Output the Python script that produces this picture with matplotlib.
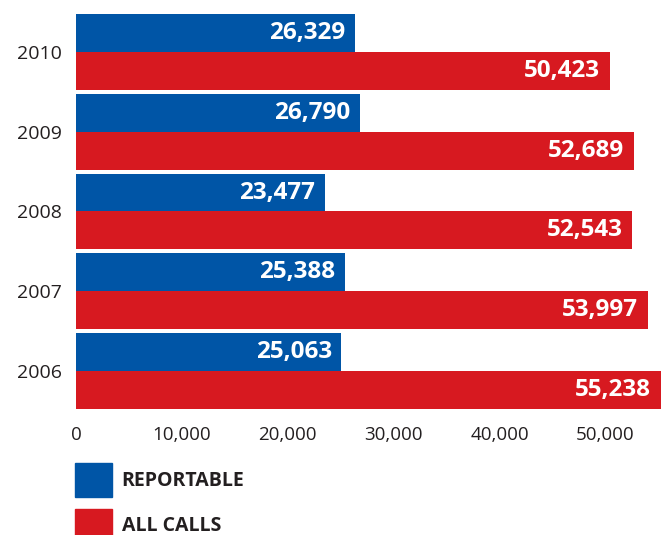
import matplotlib
matplotlib.use("Agg")
import matplotlib.pyplot as plt
import numpy as np
from matplotlib.patches import Patch

plt.rcParams['font.family'] = ['Open Sans', 'DejaVu Sans']

# Call counts per year
years = ["2006", "2007", "2008", "2009", "2010"]
reportable = [25063, 25388, 23477, 26790, 26329]
all_calls = [55238, 53997, 52543, 52689, 50423]
xticks = [0, 10000, 20000, 30000, 40000, 50000]

blue = "#0055A6"
red = "#D71920"
text_col = "#231F20"

W, H = 665, 535
fig = plt.figure(figsize=(W / 100, H / 100), dpi=100)

# axes placed in pixel terms: x=0 at px 76, 10,000 units = 105.9 px
x0_px = 76
px_per_unit = 0.01059
xmax = 55300
y_top_px, y_bot_px = 4, 419
ax = fig.add_axes([x0_px / W, 1 - y_bot_px / H,
                   xmax * px_per_unit / W, (y_bot_px - y_top_px) / H])

y = np.arange(len(years))
h = 0.475
ax.barh(y + h / 2, reportable, height=h, color=blue, label="REPORTABLE")
ax.barh(y - h / 2, all_calls, height=h, color=red, label="ALL CALLS")

for yi, v in zip(y, reportable):
    ax.annotate(f"{v:,}", (v, yi + h / 2), xytext=(-7, 0), textcoords="offset points",
                ha="right", va="center", color="white", fontsize=17.5, fontweight="bold")
for yi, v in zip(y, all_calls):
    ax.annotate(f"{v:,}", (v, yi - h / 2), xytext=(-7, 0), textcoords="offset points",
                ha="right", va="center", color="white", fontsize=17.5, fontweight="bold")

ax.set_xlim(0, xmax)
ax.set_ylim(-0.6, 4.6)
ax.set_yticks(y)
ax.set_yticklabels(years)
ax.set_xticks(xticks)
ax.set_xticklabels([f"{t:,}" for t in xticks])
ax.tick_params(axis="both", length=0, colors=text_col, labelsize=13.5)
ax.tick_params(axis="y", pad=10, labelsize=14)
ax.tick_params(axis="x", pad=5)
for s in ax.spines.values():
    s.set_visible(False)

handles = [Patch(color=blue), Patch(color=red)]
fig.legend(handles, ["REPORTABLE", "ALL CALLS"], loc="upper left",
           bbox_to_anchor=(75 / W, 1 - 463 / H), frameon=False, borderpad=0,
           borderaxespad=0, handlelength=1.9, handleheight=2.3,
           handletextpad=0.5, labelspacing=0.6,
           prop={"size": 14, "weight": "bold"}, labelcolor=text_col)

fig.savefig("out.png", dpi=100)
